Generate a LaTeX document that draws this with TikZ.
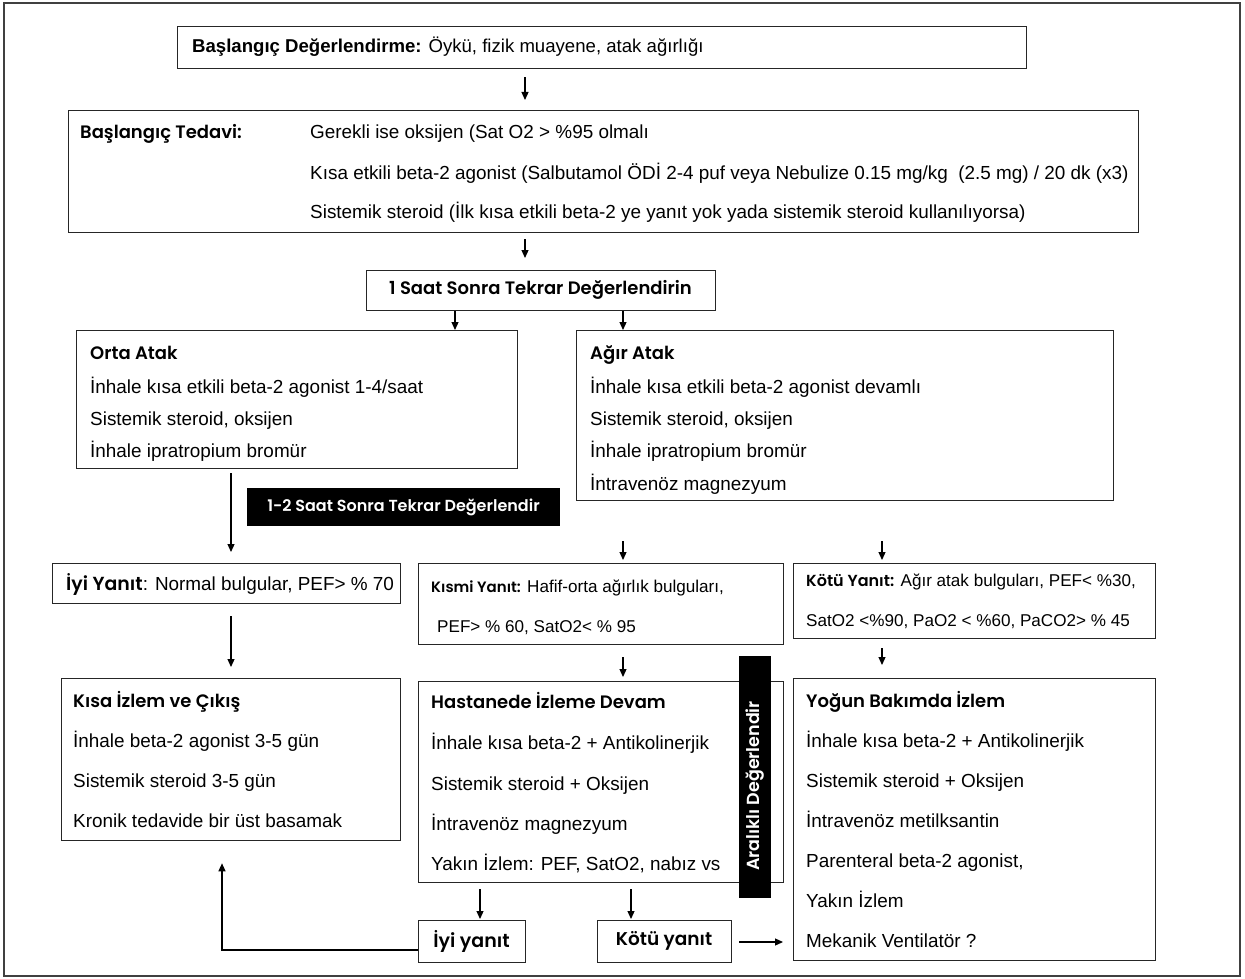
\documentclass[tikz,border=0pt]{standalone}
\usepackage{fontspec}
\setmainfont{Liberation Sans}
\newfontfamily\comic{Poppins}[BoldFont={Poppins SemiBold}]
\usetikzlibrary{arrows.meta}
\tikzset{
  box/.style={draw=black!85, line width=1.3pt, rectangle, inner sep=0pt, anchor=north west},
  blk/.style={fill=black, rectangle, inner sep=0pt, anchor=north west},
  tx/.style={anchor=base west, inner sep=0pt, font=\fontsize{18.9}{20}\selectfont},
  txs/.style={anchor=base west, inner sep=0pt, font=\fontsize{17.1}{20}\selectfont},
  hd/.style={anchor=base west, inner sep=0pt, font=\comic\bfseries\fontsize{18}{20}\selectfont},
  arr/.style={line width=1.2pt, -{Triangle[length=8pt,width=7pt]}},
  ln/.style={line width=1.2pt}
}
\newcommand{\hb}[1]{{\comic\bfseries #1}}
\begin{document}
\begin{tikzpicture}[x=1pt,y=-1pt]
\useasboundingbox (0,0) rectangle (1245,979);
\fill[white] (0,0) rectangle (1245,979);
\draw[line width=1.3pt, black!75] (4,3) rectangle (1240,976);

% top
\node[box, minimum width=849pt, minimum height=42pt] (top) at (177,26) {};
\node[tx, font=\fontsize{18.6}{20}\selectfont] (topt) at (192,53) {\textbf{Başlangıç Değerlendirme:} Öykü, fizik muayene, atak ağırlığı};

% tedavi
\node[box, minimum width=1070pt, minimum height=122pt] (ted) at (68,110) {};
\node[hd] (tedh) at (80,139) {Başlangıç Tedavi:};
\node[tx] (ted1) at (310,139) {Gerekli ise oksijen (Sat O2 > \%95 olmalı};
\node[tx] (ted2) at (310,179) {Kısa etkili beta-2 agonist (Salbutamol ÖDİ 2-4 puf veya Nebulize 0.15 mg/kg\ \ (2.5 mg) / 20 dk (x3)};
\node[tx] (ted3) at (310,218) {Sistemik steroid (İlk kısa etkili beta-2 ye yanıt yok yada sistemik steroid kullanılıyorsa)};

% 1 saat
\node[box, minimum width=349pt, minimum height=40pt] (saat) at (366,270) {};
\node[hd, anchor=center] (saatt) at (540.5,290) {1 Saat Sonra Tekrar Değerlendirin};

% orta
\node[box, minimum width=441pt, minimum height=138pt] (orta) at (76,330) {};
\node[hd] (orta0) at (90,359) {Orta Atak};
\node[tx] (orta1) at (90,393) {İnhale kısa etkili beta-2 agonist 1-4/saat};
\node[tx] (orta2) at (90,425) {Sistemik steroid, oksijen};
\node[tx] (orta3) at (90,457) {İnhale ipratropium bromür};

% agir
\node[box, minimum width=537pt, minimum height=170pt] (agir) at (576,330) {};
\node[hd] (agir0) at (590,359) {Ağır Atak};
\node[tx] (agir1) at (590,393) {İnhale kısa etkili beta-2 agonist devamlı};
\node[tx] (agir2) at (590,425) {Sistemik steroid, oksijen};
\node[tx] (agir3) at (590,457) {İnhale ipratropium bromür};
\node[tx] (agir4) at (590,490) {İntravenöz magnezyum};

% black label
\node[blk, minimum width=313pt, minimum height=38pt] (b12) at (247,488) {};
\node[hd, anchor=center, text=white, font=\comic\bfseries\fontsize{16}{18}\selectfont] (b12t) at (403.5,507) {1-2 Saat Sonra Tekrar Değerlendir};

% iyi yanit
\node[box, minimum width=348pt, minimum height=40pt] (iyi) at (52,563) {};
\node[tx] (iyit) at (66,590) {\hb{İyi Yanıt}: Normal bulgular, PEF> \% 70};

% kismi
\node[box, minimum width=365pt, minimum height=81pt] (kis) at (418,563) {};
\node[txs] (kis1) at (431,592) {\hb{\fontsize{15}{18}\selectfont Kısmi Yanıt:} Hafif-orta ağırlık bulguları,};
\node[txs] (kis2) at (437,632) {PEF> \% 60, SatO2< \% 95};

% kotu
\node[box, minimum width=362pt, minimum height=75pt] (kot) at (793,563) {};
\node[txs] (kot1) at (806,586) {\hb{\fontsize{16}{18}\selectfont Kötü Yanıt:} Ağır atak bulguları, PEF< \%30,};
\node[txs] (kot2) at (806,626) {SatO2 <\%90, PaO2 < \%60, PaCO2> \% 45};

% kisa izlem
\node[box, minimum width=339pt, minimum height=162pt] (kisa) at (61,678) {};
\node[hd] (kisa0) at (73,707) {Kısa İzlem ve Çıkış};
\node[tx] (kisa1) at (73,747) {İnhale beta-2 agonist 3-5 gün};
\node[tx] (kisa2) at (73,787) {Sistemik steroid 3-5 gün};
\node[tx] (kisa3) at (73,827) {Kronik tedavide bir üst basamak};

% hastanede
\node[box, minimum width=365pt, minimum height=201pt] (has) at (418,681) {};
\node[hd] (has0) at (431,708) {Hastanede İzleme Devam};
\node[tx] (has1) at (431,749) {İnhale kısa beta-2 + Antikolinerjik};
\node[tx] (has2) at (431,790) {Sistemik steroid + Oksijen};
\node[tx] (has3) at (431,830) {İntravenöz magnezyum};
\node[tx] (has4) at (431,870) {Yakın İzlem: PEF, SatO2, nabız vs};

% vertical black
\node[blk, minimum width=32pt, minimum height=242pt] (vb) at (739,656) {};
\node[hd, anchor=center, rotate=90, text=white, font=\comic\bfseries\fontsize{17.5}{18}\selectfont] (vbt) at (755,786) {Aralıklı Değerlendir};

% yogun
\node[box, minimum width=362pt, minimum height=282pt] (yog) at (793,678) {};
\node[hd] (yog0) at (806,707) {Yoğun Bakımda İzlem};
\node[tx] (yog1) at (806,747) {İnhale kısa beta-2 + Antikolinerjik};
\node[tx] (yog2) at (806,787) {Sistemik steroid + Oksijen};
\node[tx] (yog3) at (806,827) {İntravenöz metilksantin};
\node[tx] (yog4) at (806,867) {Parenteral beta-2 agonist,};
\node[tx] (yog5) at (806,907) {Yakın İzlem};
\node[tx] (yog6) at (806,947) {Mekanik Ventilatör ?};

% bottom small boxes
\node[box, minimum width=107pt, minimum height=42pt] (iy2) at (418,920) {};
\node[hd, anchor=center, font=\comic\bfseries\fontsize{19}{20}\selectfont] (iy2t) at (471.5,941) {İyi yanıt};
\node[box, minimum width=134pt, minimum height=42pt] (ko2) at (597,920) {};
\node[hd, anchor=center, font=\comic\bfseries\fontsize{18.5}{20}\selectfont] (ko2t) at (664,941) {Kötü yanıt};

% connector x positions
\coordinate (c525) at (525,0);
\coordinate (c455) at (455,0);
\coordinate (c623) at (623,0);
\coordinate (c231) at (231,0);
\coordinate (c882) at (882,0);
\coordinate (c480) at (480,0);
\coordinate (c631) at (631,0);
\coordinate (y942) at (0,942);
\coordinate (y950) at (0,950);
\coordinate (c222) at (222,0);
\coordinate (bend) at (222,950);

\draw[arr, shorten <=8pt, shorten >=10pt] (top.south -| c525) -- (ted.north -| c525);
\draw[arr, shorten <=6pt, shorten >=12pt] (ted.south -| c525) -- (saat.north -| c525);
\draw[arr] (saat.south -| c455) -- (orta.north -| c455);
\draw[arr] (saat.south -| c623) -- (agir.north -| c623);
\draw[arr, shorten <=4pt, shorten >=11pt] (orta.south -| c231) -- (iyi.north -| c231);
\draw[arr, shorten <=40pt, shorten >=3pt] (agir.south -| c623) -- (kis.north -| c623);
\draw[arr, shorten <=40pt, shorten >=3pt] (agir.south -| c882) -- (kot.north -| c882);
\draw[arr, shorten <=12pt, shorten >=11pt] (iyi.south -| c231) -- (kisa.north -| c231);
\draw[arr, shorten <=12pt, shorten >=4pt] (kis.south -| c623) -- (has.north -| c623);
\draw[arr, shorten <=9pt, shorten >=13pt] (kot.south -| c882) -- (yog.north -| c882);
\draw[arr, shorten <=6pt, shorten >=1pt] (has.south -| c480) -- (iy2.north -| c480);
\draw[arr, shorten <=6pt, shorten >=1pt] (has.south -| c631) -- (ko2.north -| c631);
\draw[arr, shorten <=7pt, shorten >=10pt] (ko2.east |- y942) -- (yog.west |- y942);
\draw[arr, shorten >=22pt] (iy2.west |- y950) -- (bend) -- (kisa.south -| c222);
\end{tikzpicture}
\end{document}
